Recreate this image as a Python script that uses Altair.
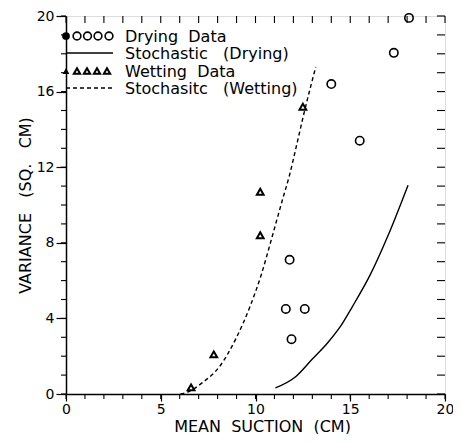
import altair as alt
import pandas as pd

# Observed data
drying_x = [11.6, 11.9, 12.6, 11.8, 14.0, 15.5, 17.3, 18.1]
drying_y = [4.5, 2.9, 4.5, 7.1, 16.4, 13.4, 18.05, 19.9]
wetting_x = [6.6, 7.8, 10.25, 10.25, 12.5]
wetting_y = [0.35, 2.1, 8.4, 10.7, 15.2]

# Stochastic model curves
stoch_dry_x = [11.05, 12.1, 13.0, 13.8, 14.5, 15.1, 16.05, 17.0, 18.05]
stoch_dry_y = [0.32, 0.9, 1.85, 2.7, 3.6, 4.6, 6.3, 8.4, 11.05]
stoch_wet_x = [6.04, 6.4, 7.2, 8.1, 9.0, 9.7, 10.3, 10.9, 11.4, 11.8, 12.2, 12.57, 13.18]
stoch_wet_y = [0.0, 0.1, 0.6, 1.45, 3.0, 4.6, 6.3, 8.4, 10.2, 11.6, 13.3, 14.9, 17.3]

tick_vals = list(range(0, 21))
x_major = [0, 5, 10, 15, 20]
y_major = [0, 4, 8, 12, 16, 20]

NB = "\u00a0"
legend_labels = [
    "Drying" + NB * 2 + "Data",
    "Stochastic" + NB * 3 + "(Drying)",
    "Wetting" + NB * 2 + "Data",
    "Stochasitc" + NB * 3 + "(Wetting)",
]
x_title = "MEAN" + NB * 2 + "SUCTION" + NB * 2 + "(CM)"
y_title = "VARIANCE" + NB * 3 + "(SQ." + NB * 3 + "CM)"

FONT = "DejaVu Sans"
W, H = 379, 378

dry = pd.DataFrame({"x": drying_x, "y": drying_y})
wet = pd.DataFrame({"x": wetting_x, "y": wetting_y})
sdry = pd.DataFrame({"x": stoch_dry_x, "y": stoch_dry_y})
swet = pd.DataFrame({"x": stoch_wet_x, "y": stoch_wet_y})
ticks = pd.DataFrame({"t": tick_vals})

xs = alt.Scale(domain=[0, 20], nice=False, zero=False)
ys = alt.Scale(domain=[0, 20], nice=False, zero=False)

xaxis = alt.Axis(
    values=x_major,
    labelOverlap=False,
    title=x_title,
    grid=False,
    domainColor="black", domainWidth=1.5,
    tickColor="black", tickSize=7, tickWidth=1.2,
    labelColor="black", labelFont=FONT, labelFontSize=14, labelPadding=1,
    labelFlush=False,
    titleFont=FONT, titleFontSize=16, titleFontWeight="normal", titleColor="black",
    titleX=196, titleY=37, titleBaseline="alphabetic", titleAnchor="middle",
)
yaxis = alt.Axis(
    values=y_major,
    labelOverlap=False,
    title=y_title,
    grid=False,
    domainColor="black", domainWidth=1.5,
    tickColor="black", tickSize=10, tickWidth=1.2,
    labelColor="black", labelFont=FONT, labelFontSize=14, labelPadding=2,
    labelFlush=False,
    titleFont=FONT, titleFontSize=16, titleFontWeight="normal", titleColor="black",
    titleX=-36, titleY=H / 2, titleBaseline="alphabetic", titleAnchor="middle", titleAngle=-90,
)

dry_pts = alt.Chart(dry).mark_point(
    shape="circle", filled=False, size=70, strokeWidth=1.6, color="black", opacity=1
).encode(x=alt.X("x:Q", scale=xs, axis=xaxis), y=alt.Y("y:Q", scale=ys, axis=yaxis))

wet_pts = alt.Chart(wet).mark_point(
    shape="triangle-up", filled=False, size=45, strokeWidth=2, color="black", opacity=1
).encode(x=alt.X("x:Q", scale=xs), y=alt.Y("y:Q", scale=ys))

dry_line = alt.Chart(sdry).mark_line(
    color="black", strokeWidth=1.4, interpolate="monotone"
).encode(x=alt.X("x:Q", scale=xs), y=alt.Y("y:Q", scale=ys))

wet_line = alt.Chart(swet).mark_line(
    color="black", strokeWidth=1.4, strokeDash=[4, 3], interpolate="monotone"
).encode(x=alt.X("x:Q", scale=xs), y=alt.Y("y:Q", scale=ys))

rule = dict(color="black", strokeWidth=1.1)
top_ticks = alt.Chart(ticks).mark_rule(**rule).encode(
    x=alt.X("t:Q", scale=xs), y=alt.value(0), y2=alt.value(7))
bottom_ticks = alt.Chart(ticks).mark_rule(**rule).encode(
    x=alt.X("t:Q", scale=xs), y=alt.value(H), y2=alt.value(H + 5))
right_ticks = alt.Chart(ticks).mark_rule(**rule).encode(
    y=alt.Y("t:Q", scale=ys), x=alt.value(W), x2=alt.value(W - 8))
left_ticks = alt.Chart(ticks).mark_rule(**rule).encode(
    y=alt.Y("t:Q", scale=ys), x=alt.value(0), x2=alt.value(-5))

layers = [dry_pts, wet_pts, dry_line, wet_line, top_ticks, bottom_ticks, right_ticks, left_ticks]

# Custom legend (top-left, inside plot)
row_y = [20, 37, 55, 72]
circ_x = [11, 21.5, 32, 43]
tri_x = [11, 21, 31, 41]

one = pd.DataFrame({"a": [0]})
layers.append(alt.Chart(one).mark_point(shape="circle", filled=True, size=60, color="black", opacity=1).encode(
    x=alt.value(0), y=alt.value(row_y[0])))
for cx in circ_x:
    layers.append(alt.Chart(one).mark_point(shape="circle", filled=False, size=60, strokeWidth=1.6, color="black", opacity=1).encode(
        x=alt.value(cx), y=alt.value(row_y[0])))
layers.append(alt.Chart(one).mark_point(shape="triangle-up", filled=True, size=45, color="black", opacity=1).encode(
    x=alt.value(0), y=alt.value(row_y[2])))
for tx in tri_x:
    layers.append(alt.Chart(one).mark_point(shape="triangle-up", filled=False, size=40, strokeWidth=2, color="black", opacity=1).encode(
        x=alt.value(tx), y=alt.value(row_y[2])))
layers.append(alt.Chart(one).mark_rule(color="black", strokeWidth=1.4).encode(
    x=alt.value(0), x2=alt.value(47), y=alt.value(row_y[1])))
layers.append(alt.Chart(one).mark_rule(color="black", strokeWidth=1.4, strokeDash=[4, 3]).encode(
    x=alt.value(0), x2=alt.value(47), y=alt.value(row_y[3])))
for i, lab in enumerate(legend_labels):
    layers.append(alt.Chart(one).mark_text(
        text=lab, align="left", baseline="alphabetic", font=FONT, fontSize=16, color="black"
    ).encode(x=alt.value(59), y=alt.value(row_y[i] + 6)))

chart = alt.layer(*layers).properties(
    width=W, height=H,
    autosize=alt.AutoSizeParams(type="none"),
    padding={"left": 58, "top": 8, "right": 8, "bottom": 40},
).configure_view(stroke="black", strokeWidth=1.5).configure(background="white")

chart.save("out.html", embed_options={"renderer": "svg", "actions": False})
